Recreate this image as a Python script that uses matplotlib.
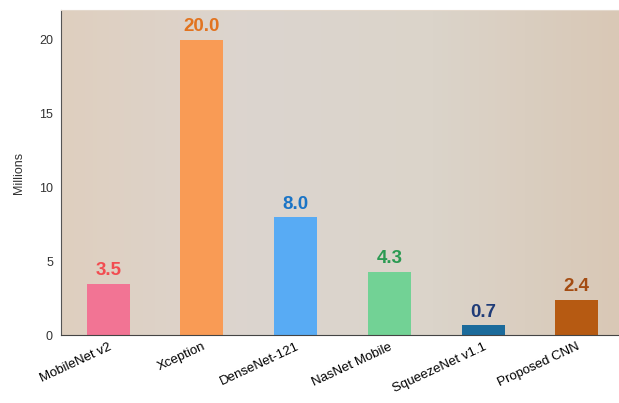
import numpy as np
import matplotlib.pyplot as plt
from matplotlib.colors import LinearSegmentedColormap

plt.rcParams['font.family'] = ['Liberation Sans', 'DejaVu Sans']

# 各模型参数量（百万）
models = ["MobileNet v2", "Xception", "DenseNet-121", "NasNet Mobile",
          "SqueezeNet v1.1", "Proposed CNN"]
params = [3.5, 20.0, 8.0, 4.3, 0.7, 2.4]
bar_colors = ["#f27494", "#f99b55", "#58abf4", "#72d295", "#1b6b9b", "#b65a12"]
label_colors = ["#f24c50", "#e2731f", "#1a74c6", "#2b9a52", "#1f3c78", "#a44c12"]
yticks = [0, 5, 10, 15, 20]

fig = plt.figure(figsize=(6.19, 4.03), dpi=100)
ax = fig.add_axes([0.099, 0.168, 0.901, 0.807])

x = np.arange(len(models))
ax.set_xlim(-0.5, 5.45)
ax.set_ylim(0, 22)

# 背景渐变
bg = LinearSegmentedColormap.from_list(
    "bg", ["#dfcfbf", "#dcd5cf", "#dbd4ca", "#d9c8b6"])
grad = np.linspace(0, 1, 256).reshape(1, -1)
ax.imshow(grad, cmap=bg, aspect="auto", extent=(-0.5, 5.45, 0, 22),
          zorder=0)

ax.bar(x, params, width=0.46, color=bar_colors, zorder=2)
for xi, v, c in zip(x, params, label_colors):
    ax.text(xi, v + 0.3, f"{v:.1f}", ha="center", va="bottom",
            fontsize=13.5, fontweight="bold", color=c, zorder=3)

ax.set_xticks(x)
ax.set_xticklabels(models, rotation=25, ha="right", rotation_mode="anchor",
                   fontsize=9.5)
ax.set_yticks(yticks)
ax.set_yticklabels([str(t) for t in yticks], fontsize=9, color="#333333")
ax.tick_params(axis="both", length=0, pad=6)
ax.tick_params(axis="x", pad=4)
ax.set_ylabel("Millions", fontsize=9, color="#333333", labelpad=10)

ax.spines["left"].set_color("#555555")
ax.spines["bottom"].set_color("#444444")
ax.spines["top"].set_color("#e3d8cc")
ax.spines["right"].set_visible(False)

fig.savefig("out.png", dpi=100)
